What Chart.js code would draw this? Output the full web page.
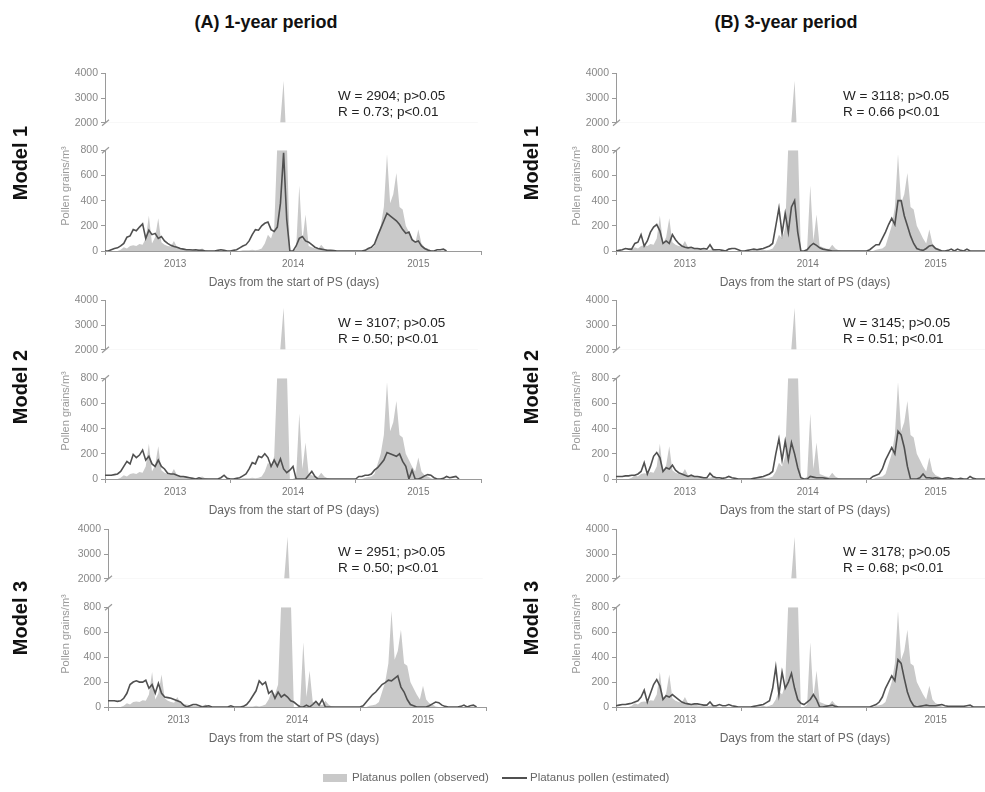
<!DOCTYPE html>
<html>
<head>
<meta charset="utf-8">
<script src="https://cdn.jsdelivr.net/npm/chart.js@4.4.1/dist/chart.umd.min.js"></script>
<style>
  body { margin: 0; width: 985px; height: 792px; overflow: hidden; background: #fff; position: relative;
         font-family: "Liberation Sans", Arial, sans-serif; }
  canvas { position: absolute; }
  .lbl { position: absolute; white-space: nowrap; line-height: 1; }
</style>
</head>
<body>
<script>
// ---- data ----
const years = ['2013', '2014', '2015'];
const pointsPerYear = 40;

// observed Platanus pollen (same in every panel), 40 samples per season
const observed = [
  0,0,0,0,0,10,30,20,40,45, 40,55,50,100,280,60,110,260,70,50, 40,35,80,30,25,20,15,10,10,5, 10,20,5,0,0,0,0,0,0,0,
  0,0,0,0,5,5,5,10,5,10, 20,60,130,100,180,850,2100,3700,900,0, 0,20,520,80,290,40,30,20,15,50, 20,5,0,0,0,0,0,0,0,0,
  0,0,0,10,15,20,40,120,200,350, 770,380,450,620,350,330,200,150,100,60, 170,60,30,20,5,0,0,0,0,0, 0,0,0,0,0,0,0,0,0,0
];

// (A) 1-year period
const estA1 = [
  0,0,10,20,25,40,60,110,120,170, 160,190,215,100,165,130,140,100,115,80, 60,45,35,30,20,15,10,10,8,10, 5,5,0,0,0,0,5,10,5,0,
  0,5,10,25,40,50,80,130,170,165, 200,220,230,170,155,190,380,780,250,0, 0,40,100,115,80,70,50,30,20,15, 10,5,5,3,0,0,0,0,0,0,
  0,0,0,5,20,30,55,120,180,240, 300,280,260,240,210,170,140,150,90,70, 80,40,20,8,0,0,10,10,15,0, null,null,null,null,null,null,null,null,null,null
];
const estA2 = [
  30,30,30,35,40,60,100,140,120,195, 170,190,230,150,180,120,100,150,100,80, 45,40,40,30,20,20,15,10,5,0, 10,0,0,0,0,0,0,10,30,5,
  0,0,5,10,25,40,80,130,120,180, 170,200,170,100,150,100,160,80,50,70, 100,0,0,0,0,30,60,20,0,0, 0,0,0,0,0,0,0,0,0,0,
  0,20,20,30,30,40,70,90,120,150, 210,200,190,180,200,140,100,0,70,0, 0,10,25,35,30,10,0,0,5,20, 10,15,20,0,null,null,null,null,null,null
];
const estA3 = [
  50,50,50,45,50,70,110,180,200,210, 200,200,215,150,180,110,190,110,80,75, 70,60,50,40,15,0,10,20,20,10, 0,5,10,0,0,0,0,0,0,10,
  0,0,0,5,20,50,90,130,210,180, 200,110,130,70,120,80,100,80,50,40, 20,0,0,15,0,20,45,15,60,0, 0,0,0,0,0,0,0,0,0,0,
  0,10,40,70,100,120,150,180,195,215, 210,230,250,160,120,60,20,10,0,0, 0,0,10,25,40,35,15,5,0,0, 0,0,5,15,0,10,15,0,null,null
];

// (B) 3-year period
const estB1 = [
  0,5,10,20,15,15,60,70,130,40, 80,150,190,210,160,60,80,60,130,90, 60,40,30,25,30,20,20,15,20,15, 50,10,10,10,5,0,15,20,20,10,
  0,0,5,10,15,10,15,20,30,40, 60,200,340,140,300,150,350,400,150,0, 0,10,40,60,45,25,15,10,5,0, 0,0,0,0,0,0,0,0,0,0,
  0,10,30,50,50,100,150,210,260,210, 400,400,280,200,120,60,20,10,5,20, 40,45,20,10,0,0,5,15,0,15, 5,0,15,0,0,0,0,0,0,0
];
const estB2 = [
  20,20,20,25,25,30,30,40,60,130, 40,100,180,210,170,60,90,80,110,70, 50,40,30,20,30,20,20,15,10,10, 45,20,10,10,5,10,20,10,5,0,
  0,0,0,0,5,10,15,20,30,40, 60,200,320,150,300,150,290,200,90,10, 0,0,20,15,10,10,10,5,0,0, 0,0,0,0,0,0,0,0,0,0,
  0,0,20,30,40,80,150,200,250,200, 380,350,250,100,0,0,0,10,40,10, 10,5,10,5,0,5,10,5,0,0, 5,0,0,20,5,0,0,0,0,0
];
const estB3 = [
  10,15,20,20,25,30,40,50,80,135, 40,110,180,220,170,60,90,80,100,80, 60,40,30,25,20,25,25,20,15,15, 40,10,10,20,10,10,20,10,5,0,
  0,0,0,0,5,10,15,20,35,50, 150,320,100,280,150,200,270,150,60,30, 20,40,60,100,60,0,0,5,10,15, 5,0,0,0,0,0,0,0,0,0,
  0,0,10,20,40,80,150,200,250,210, 380,350,230,120,50,10,0,5,10,15, 10,10,10,15,20,10,5,5,5,5, 5,5,10,15,0,0,0,0,0,0
];

const lowerTicks = [0, 200, 400, 600, 800];
const upperTicks = [2000, 3000, 4000];
const yearBounds = [0, 1, 2, 3];
const yearLabelPosA = [0.56, 1.5, 2.5];
const yearLabelPosB = [0.55, 1.53, 2.55];
const modelLabels = ['Model 1', 'Model 2', 'Model 3'];
const wLabelsA = ['W = 2904; p>0.05', 'W = 3107; p>0.05', 'W = 2951; p>0.05'];
const rLabelsA = ['R = 0.73; p<0.01', 'R = 0.50; p<0.01', 'R = 0.50; p<0.01'];
const wLabelsB = ['W = 3118; p>0.05', 'W = 3145; p>0.05', 'W = 3178; p>0.05'];
const rLabelsB = ['R = 0.66 p<0.01', 'R = 0.51; p<0.01', 'R = 0.68; p<0.01'];

// ---- layout ----
const AXIS = '#9a9a9a';
const OBS_FILL = '#c9c9c9';
const EST_LINE = '#505050';
const AXW = 46, PADT = 8, PADR = 8, PADB = 8, XAXH = 26;
const rowY4000 = [72, 299, 528];
const rowY2000 = [124, 351, 580];
const rowY800 = [149, 377, 606];
const rowY0 = [251, 479, 707];

Chart.defaults.font.family = '"Liberation Sans", Arial, sans-serif';

const toPoints = arr => arr.map((v, i) => ({ x: i / pointsPerYear, y: v }));

const breakPlugin = {
  id: 'breakMark',
  afterDraw(chart, args, opts) {
    const { ctx, chartArea } = chart;
    const x = chartArea.left;
    const y = opts.edge === 'top' ? chartArea.top : chartArea.bottom;
    ctx.save();
    ctx.strokeStyle = AXIS;
    ctx.lineWidth = 1.2;
    ctx.beginPath();
    ctx.moveTo(x - 3, y + 3);
    ctx.lineTo(x + 4, y - 3);
    ctx.stroke();
    ctx.restore();
  }
};

function addCanvas(left, top, width, height) {
  const c = document.createElement('canvas');
  c.width = width;
  c.height = height;
  c.style.left = left + 'px';
  c.style.top = top + 'px';
  document.body.appendChild(c);
  return c;
}

function yScale(min, max, tickValues) {
  return {
    min, max,
    afterBuildTicks: s => { s.ticks = tickValues.map(value => ({ value })); },
    afterFit: s => { s.width = AXW; },
    ticks: { color: '#888', font: { size: 10.5 }, padding: 3, callback: v => String(v) },
    grid: { drawOnChartArea: false, tickLength: 4, tickColor: AXIS },
    border: { display: true, color: AXIS }
  };
}

function lowerChart(x0, yearW, y800, y0, est, labelPos) {
  const width = Math.round(AXW + 3 * yearW + PADR);
  const height = PADT + (y0 - y800) + XAXH;
  const c = addCanvas(x0 - AXW, y800 - PADT, width, height);
  const xTicks = yearBounds.concat(labelPos).sort((a, b) => a - b);
  return new Chart(c, {
    type: 'line',
    data: {
      datasets: [
        { data: toPoints(est), borderColor: EST_LINE, borderWidth: 1.6, pointRadius: 0, fill: false, order: 1 },
        { data: toPoints(observed), borderWidth: 0, borderColor: 'rgba(0,0,0,0)', backgroundColor: OBS_FILL,
          fill: 'origin', pointRadius: 0, order: 2 }
      ]
    },
    options: {
      responsive: false, animation: false, devicePixelRatio: 1,
      layout: { padding: { top: PADT, right: PADR, left: 0, bottom: 0 } },
      plugins: { legend: { display: false }, tooltip: { enabled: false }, breakMark: { edge: 'top' } },
      scales: {
        x: {
          type: 'linear', min: 0, max: 3,
          afterBuildTicks: s => { s.ticks = xTicks.map(value => ({ value })); },
          afterFit: s => { s.height = XAXH; },
          ticks: {
            autoSkip: false, maxRotation: 0, padding: 3, color: '#777', font: { size: 10 },
            callback: v => { const k = labelPos.indexOf(v); return k < 0 ? '' : years[k]; }
          },
          grid: {
            drawOnChartArea: false, drawTicks: true, tickLength: 4,
            tickColor: c => yearBounds.includes(c.tick.value) ? AXIS : 'rgba(0,0,0,0)'
          },
          border: { display: true, color: AXIS }
        },
        y: yScale(0, 800, lowerTicks)
      }
    },
    plugins: [breakPlugin]
  });
}

function upperChart(x0, yearW, y4000, y2000) {
  const width = Math.round(AXW + 3 * yearW + PADR);
  const height = PADT + (y2000 - y4000) + PADB;
  const c = addCanvas(x0 - AXW, y4000 - PADT, width, height);
  return new Chart(c, {
    type: 'line',
    data: {
      datasets: [
        { data: toPoints(observed), borderWidth: 0, borderColor: 'rgba(0,0,0,0)', backgroundColor: OBS_FILL,
          fill: 'start', pointRadius: 0 }
      ]
    },
    options: {
      responsive: false, animation: false, devicePixelRatio: 1,
      layout: { padding: { top: PADT, right: PADR, left: 0, bottom: PADB } },
      plugins: { legend: { display: false }, tooltip: { enabled: false }, breakMark: { edge: 'bottom' } },
      scales: {
        x: { type: 'linear', min: 0, max: 3, display: false },
        y: yScale(2000, 4000, upperTicks)
      }
    },
    plugins: [breakPlugin]
  });
}

function label(text, x, y, css, opts = {}) {
  const d = document.createElement('div');
  d.className = 'lbl';
  d.textContent = text;
  d.style.cssText += css;
  d.style.left = x + 'px';
  d.style.top = y + 'px';
  let t = opts.left ? 'translate(0,-50%)' : 'translate(-50%,-50%)';
  if (opts.rot) t += ' rotate(-90deg)';
  d.style.transform = t;
  document.body.appendChild(d);
  return d;
}

// ---- panels ----
const colA = { x0: [105, 105, 108], yearW: [125.3, 125.3, 126], est: [estA1, estA2, estA3], labelPos: yearLabelPosA,
               w: wLabelsA, r: rLabelsA, statX: 338, modelX: 20, yTitleX: 65, xTitleX: 294 };
const colB = { x0: [616, 616, 616], yearW: [125.3, 125.3, 125.3], est: [estB1, estB2, estB3], labelPos: yearLabelPosB,
               w: wLabelsB, r: rLabelsB, statX: 843, modelX: 531, yTitleX: 576, xTitleX: 805 };
const yTitleY = [186, 411, 634];
const modelY = [163, 387, 618];

[colA, colB].forEach(col => {
  for (let r = 0; r < 3; r++) {
    upperChart(col.x0[r], col.yearW[r], rowY4000[r], rowY2000[r]);
    lowerChart(col.x0[r], col.yearW[r], rowY800[r], rowY0[r], col.est[r], col.labelPos);
    label(col.w[r], col.statX, rowY4000[r] + 24, 'font-size:13.5px;color:#222;', { left: true });
    label(col.r[r], col.statX, rowY4000[r] + 40, 'font-size:13.5px;color:#222;', { left: true });
    label('Days from the start of PS (days)', col.xTitleX, rowY0[r] + 31, 'font-size:12px;color:#666;');
    label('Pollen grains/m³', col.yTitleX, yTitleY[r], 'font-size:11px;color:#999;', { rot: true });
    label(modelLabels[r], col.modelX, modelY[r], 'font-size:20px;font-weight:bold;color:#111;', { rot: true });
  }
});

label('(A) 1-year period', 266, 22, 'font-size:18px;font-weight:bold;color:#111;');
label('(B) 3-year period', 786, 22, 'font-size:18px;font-weight:bold;color:#111;');

// legend
const box = document.createElement('div');
box.style.cssText = 'position:absolute;left:323px;top:774px;width:24px;height:8px;background:' + OBS_FILL + ';';
document.body.appendChild(box);
label('Platanus pollen (observed)', 352, 778, 'font-size:11.5px;color:#666;', { left: true });
const ln = document.createElement('div');
ln.style.cssText = 'position:absolute;left:502px;top:777px;width:25px;height:2px;background:' + EST_LINE + ';';
document.body.appendChild(ln);
label('Platanus pollen (estimated)', 530, 778, 'font-size:11.5px;color:#666;', { left: true });
</script>
</body>
</html>
